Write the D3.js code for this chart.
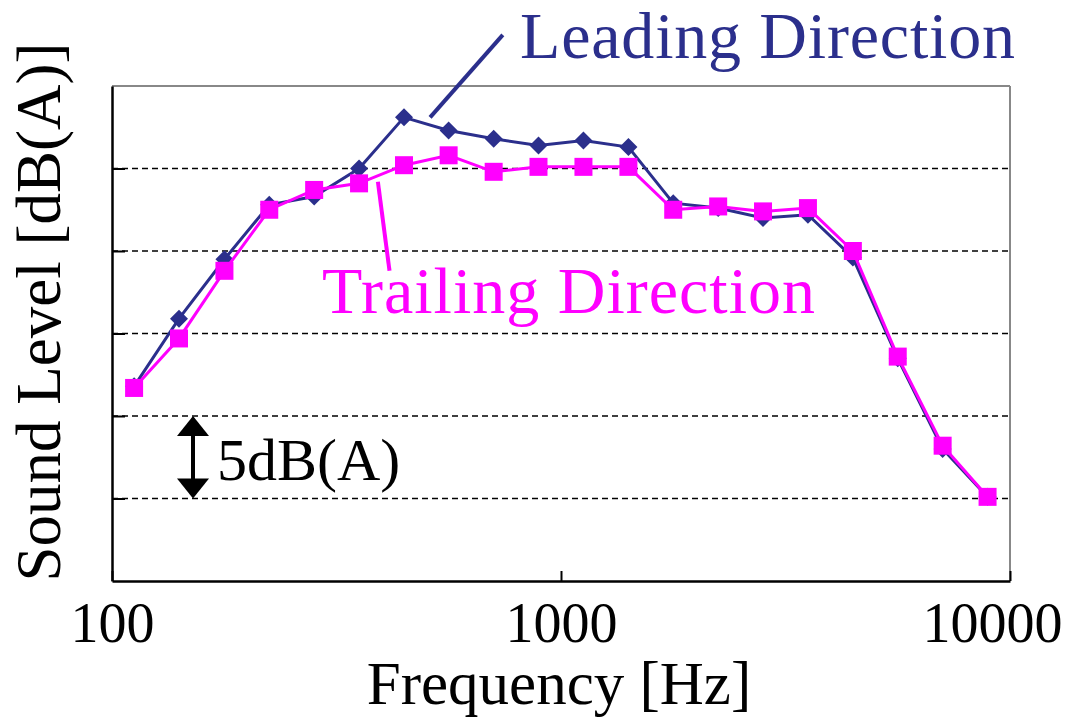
<!DOCTYPE html>
<html lang="en">
<head>
<meta charset="UTF-8">
<title>Sound level spectrum</title>
<script src="https://cdn.jsdelivr.net/npm/d3@7"></script>
<style>
  body { margin: 0; background: #fff; }
  text { font-family: "Liberation Serif", "Times New Roman", serif; }
</style>
</head>
<body>
<script>
// 1/3 octave points as plotted (Hz)
var freqs = [112, 141, 178, 224, 282, 355, 447, 562, 708, 891, 1122, 1413, 1778, 2239, 2818, 3548, 4467, 5623, 7079, 8913];
// relative sound level, dB(A)
var leading = [11.8, 15.9, 19.5, 22.8, 23.3, 25.0, 28.1, 27.3, 26.8, 26.4, 26.7, 26.3, 22.9, 22.6, 22.0, 22.2, 19.6, 13.5, 8.0, 5.1];
var trailing = [11.7, 14.7, 18.8, 22.5, 23.7, 24.1, 25.2, 25.8, 24.8, 25.1, 25.1, 25.1, 22.5, 22.7, 22.4, 22.6, 20.0, 13.6, 8.2, 5.1];
var xTicks = [100, 1000, 10000];
var gridLevels = [5, 10, 15, 20, 25];

var width = 1073, height = 719;
var plotL = 112, plotR = 1010, plotT = 86, plotB = 581;

var svg = d3.select("body").append("svg")
    .attr("width", width)
    .attr("height", height);

var x = d3.scaleLog().domain([100, 10000]).range([plotL, plotR]);
var y = d3.scaleLinear().domain([0, 30]).range([plotB, plotT]);

// dashed grid
svg.selectAll("line.grid").data(gridLevels).enter().append("line")
    .attr("class", "grid")
    .attr("x1", plotL).attr("x2", plotR)
    .attr("y1", function(d) { return y(d); })
    .attr("y2", function(d) { return y(d); })
    .attr("stroke", "#000")
    .attr("stroke-width", 1.6)
    .attr("stroke-dasharray", "6,4");

// frame: top/right grey, left/bottom black
svg.append("line").attr("x1", plotL).attr("x2", plotR).attr("y1", plotT).attr("y2", plotT)
    .attr("stroke", "#888").attr("stroke-width", 2);
svg.append("line").attr("x1", plotR).attr("x2", plotR).attr("y1", plotT).attr("y2", plotB)
    .attr("stroke", "#888").attr("stroke-width", 2);

var xAxis = d3.axisBottom(x).tickValues(xTicks).tickSize(-10).tickSizeOuter(0).tickFormat(d3.format("d"));
var gx = svg.append("g").attr("transform", "translate(0," + plotB + ")").call(xAxis);
gx.select(".domain").attr("stroke", "#000").attr("stroke-width", 2.5);
gx.selectAll(".tick line").attr("stroke", "#000").attr("stroke-width", 2);
gx.selectAll(".tick text")
    .attr("y", 61)
    .attr("dy", 0)
    .attr("font-size", 56)
    .attr("font-family", "Liberation Serif")
    .attr("fill", "#000");
// keep 10000 inside the window
gx.selectAll(".tick text").filter(function(d) { return d === 10000; })
    .attr("text-anchor", "end").attr("x", 1062 - plotR);

var yAxis = d3.axisLeft(y).tickValues(gridLevels).tickSize(-13).tickSizeOuter(0).tickFormat("");
var gy = svg.append("g").attr("transform", "translate(" + plotL + ",0)").call(yAxis);
gy.select(".domain").attr("stroke", "#000").attr("stroke-width", 2.5);
gy.selectAll(".tick line").attr("stroke", "#000").attr("stroke-width", 2);

// axis titles
svg.append("text")
    .attr("x", 559).attr("y", 704)
    .attr("text-anchor", "middle")
    .attr("font-size", 61)
    .text("Frequency [Hz]");
svg.append("text")
    .attr("transform", "translate(60,312) rotate(-90)")
    .attr("text-anchor", "middle")
    .attr("font-size", 63)
    .text("Sound Level [dB(A)]");

// 5 dB scale arrow
var ax = 193;
svg.append("line").attr("x1", ax).attr("x2", ax)
    .attr("y1", y(10) + 16).attr("y2", y(5) - 16)
    .attr("stroke", "#000").attr("stroke-width", 4);
svg.append("path")
    .attr("d", "M" + ax + "," + y(10) + "l-16,20h32z")
    .attr("fill", "#000");
svg.append("path")
    .attr("d", "M" + ax + "," + y(5) + "l-16,-20h32z")
    .attr("fill", "#000");
svg.append("text")
    .attr("x", 217).attr("y", 480)
    .attr("font-size", 60)
    .text("5dB(A)");

var navy = "#2b2f8c", pink = "#ff00ff";

function drawSeries(vals, color, lw) {
    var pts = freqs.map(function(f, i) { return [f, vals[i]]; });
    svg.append("path")
        .datum(pts)
        .attr("fill", "none")
        .attr("stroke", color)
        .attr("stroke-width", lw)
        .attr("d", d3.line().x(function(d) { return x(d[0]); }).y(function(d) { return y(d[1]); }));
    return pts;
}

var lead = drawSeries(leading, navy, 3);
svg.selectAll("path.dia").data(lead).enter().append("path")
    .attr("class", "dia")
    .attr("transform", function(d) { return "translate(" + x(d[0]) + "," + y(d[1]) + ")"; })
    .attr("d", "M0,-9L9,0L0,9L-9,0Z")
    .attr("fill", navy);

var trail = drawSeries(trailing, pink, 3);
svg.selectAll("rect.sq").data(trail).enter().append("rect")
    .attr("class", "sq")
    .attr("x", function(d) { return x(d[0]) - 9; })
    .attr("y", function(d) { return y(d[1]) - 9; })
    .attr("width", 18).attr("height", 18)
    .attr("fill", pink);

// callouts
svg.append("line")
    .attr("x1", x(511)).attr("y1", y(28.1))
    .attr("x2", x(742)).attr("y2", y(33.1))
    .attr("stroke", navy).attr("stroke-width", 4);
svg.append("text")
    .attr("x", 520).attr("y", 58)
    .attr("font-size", 66)
    .attr("textLength", 495)
    .attr("fill", navy)
    .text("Leading Direction");

svg.append("line")
    .attr("x1", x(391)).attr("y1", y(24.2))
    .attr("x2", x(415)).attr("y2", y(18.8))
    .attr("stroke", pink).attr("stroke-width", 4);
svg.append("text")
    .attr("x", 322).attr("y", 313)
    .attr("font-size", 66)
    .attr("textLength", 493)
    .attr("fill", pink)
    .text("Trailing Direction");
</script>
</body>
</html>
